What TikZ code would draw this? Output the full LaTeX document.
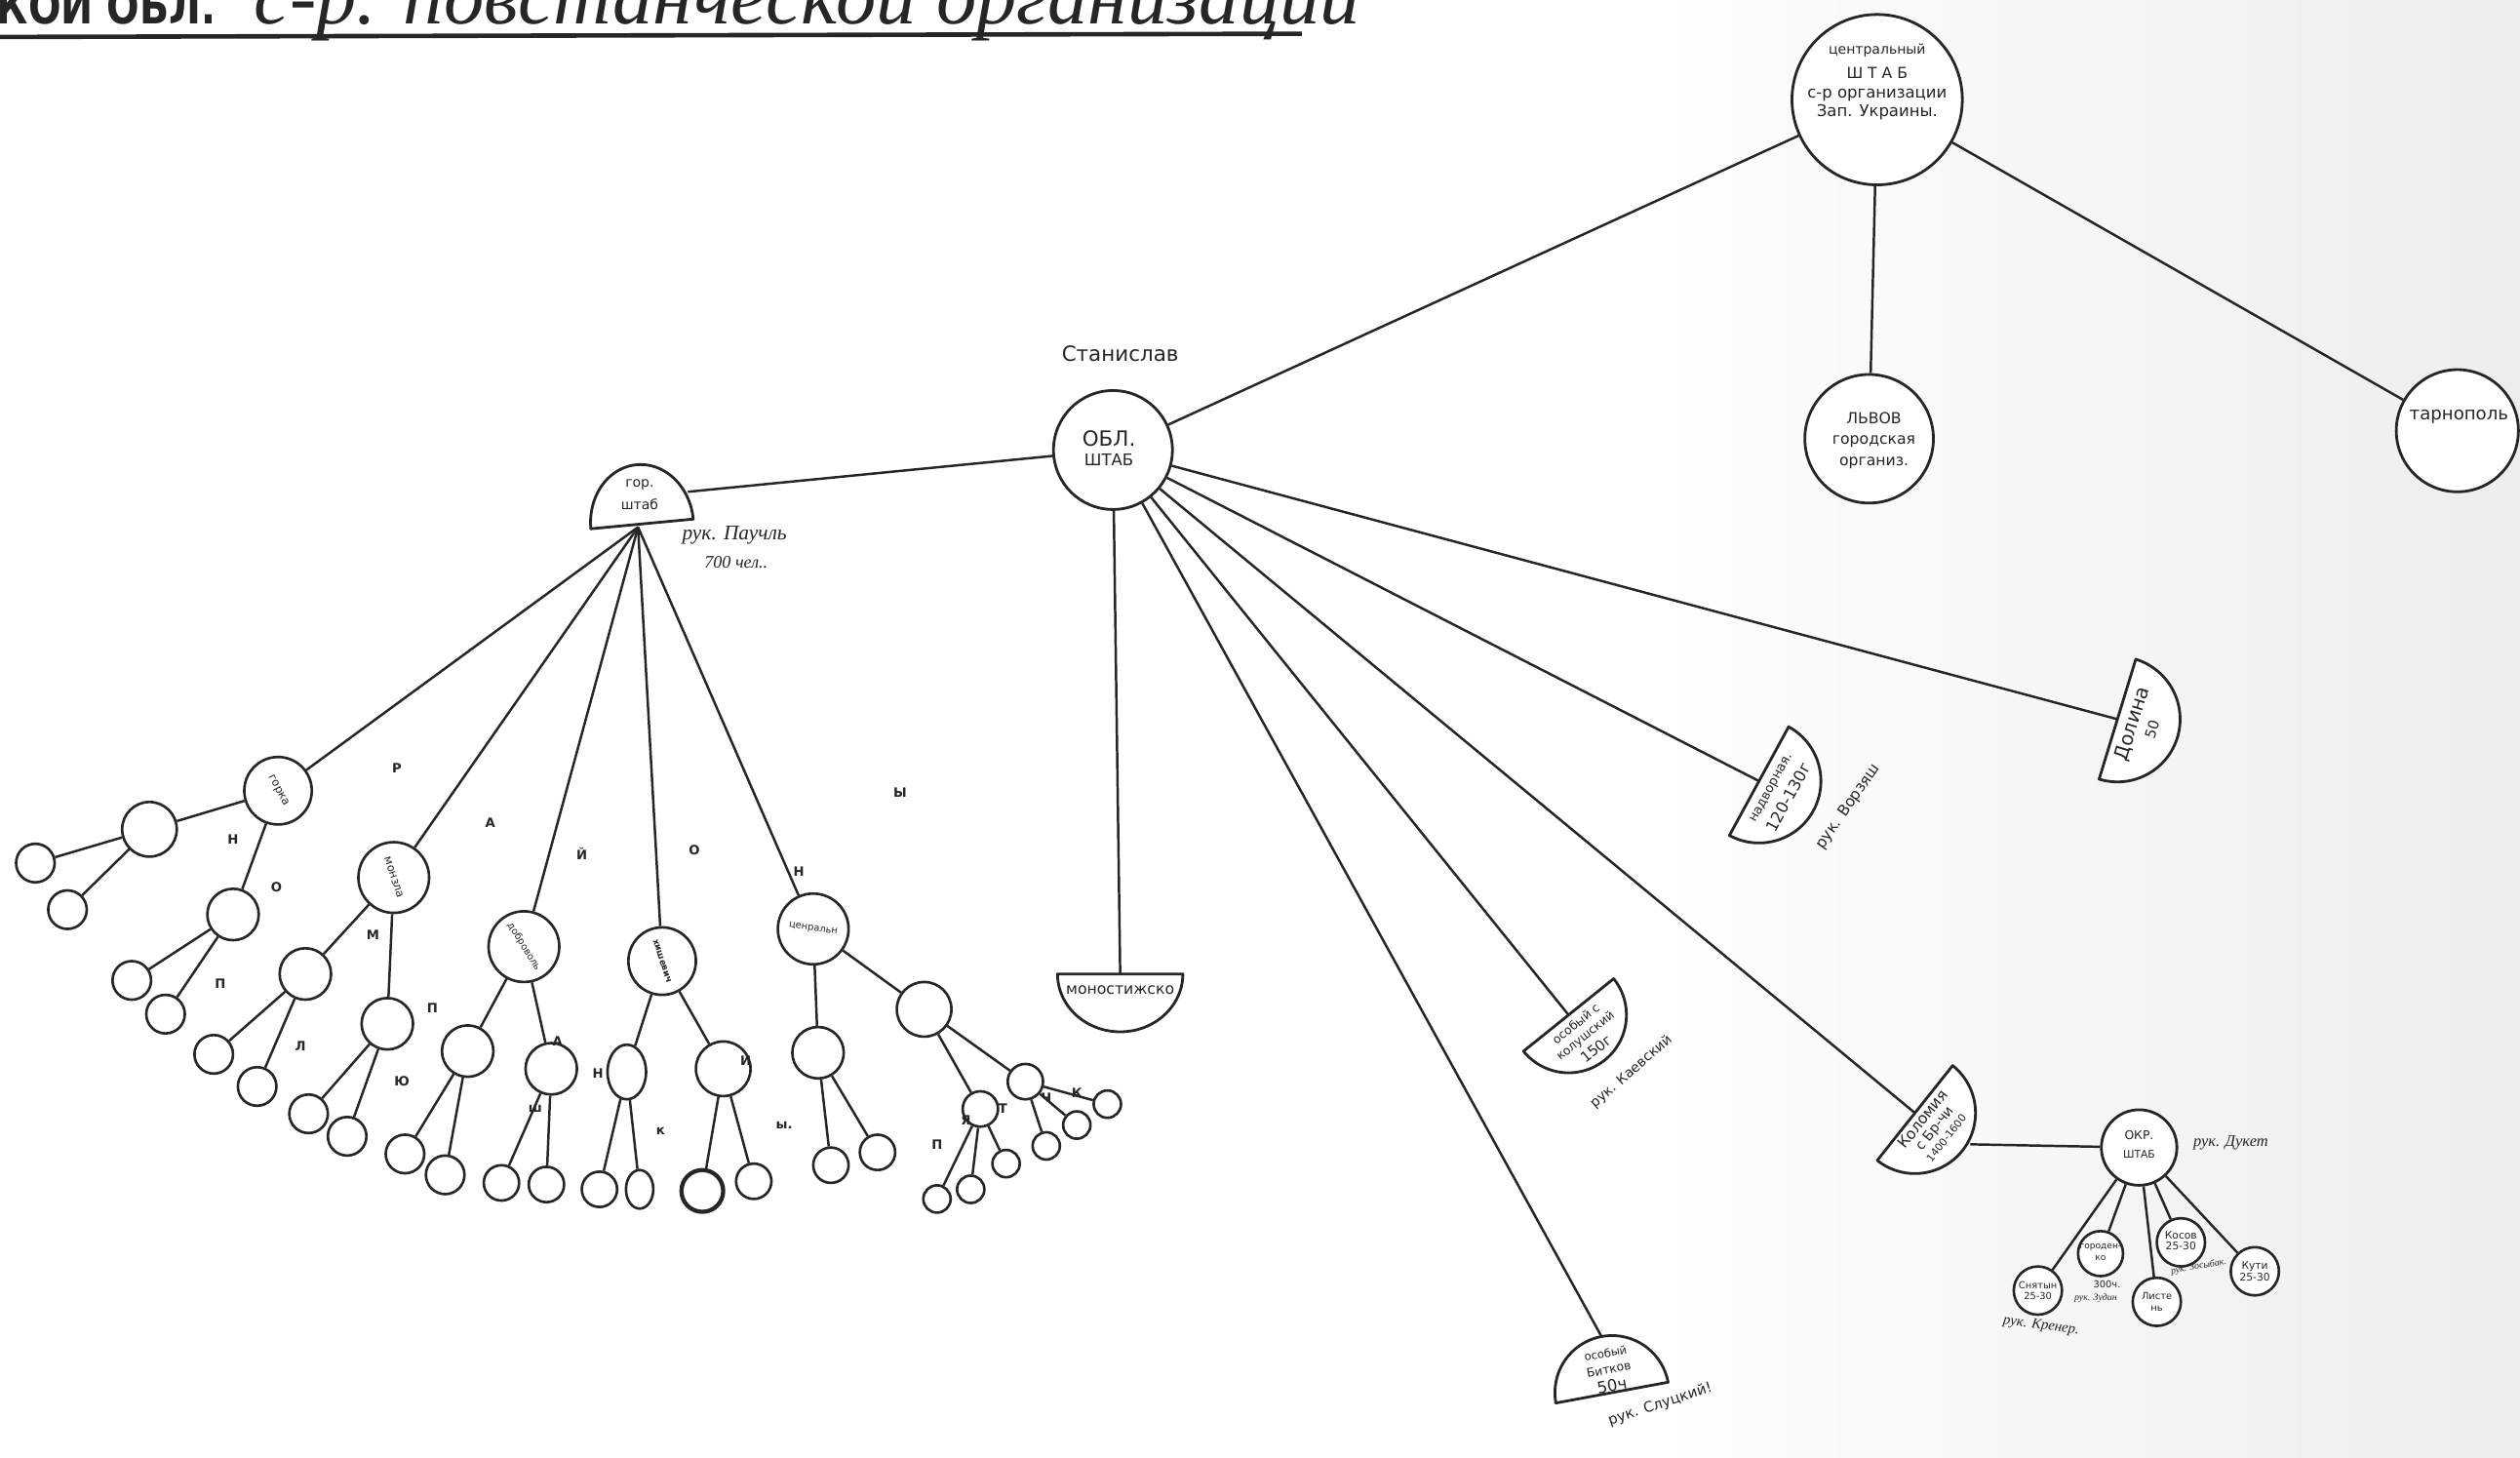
\documentclass[tikz,border=0pt]{standalone}
\usepackage{fontspec}
\setmainfont{DejaVu Sans}
\newfontfamily\scr{Liberation Serif}
\usetikzlibrary{shapes.geometric}
\definecolor{ink}{HTML}{262626}
\newcommand\fs[2]{\fontsize{#1}{#2}\selectfont}
\newcommand\hdisk[5]{\draw[hd] plot[domain=0:180,samples=60,variable=\q]
 ({#1+#3*cos(\q)*cos(#5)-#4*sin(\q)*sin(#5)},{#2+#3*cos(\q)*sin(#5)+#4*sin(\q)*cos(#5)}) -- cycle;}
\begin{document}
\begin{tikzpicture}[x=1pt,y=-1pt,
  ln/.style={line width=1.5pt,draw=ink},
  circ/.style={circle,draw=ink,line width=1.7pt,inner sep=0pt,fill=white},
  sc/.style={circle,draw=ink,line width=1.6pt,inner sep=0pt,minimum size=#1,fill=white},
  el/.style={ellipse,draw=ink,line width=1.6pt,inner sep=0pt,fill=white},
  hd/.style={draw=ink,line width=1.7pt,fill=white,line join=round},
  txt/.style={text=ink,align=center,inner sep=0pt},
  lt/.style={text=ink,inner sep=0pt,font=\bfseries\fs{8}{8}},
  hand/.style={text=ink,inner sep=0pt,align=left,font=\scr\itshape\fs{#1}{#1}},
  ]
\useasboundingbox (0,0) rectangle (1568,907);
\clip (0,0) rectangle (1568,907);
\fill[white] (0,0) rectangle (1568,907);
\shade[left color=white,right color=black!7] (1000,0) rectangle (1568,907);

% title
\node[txt,anchor=base west,font=\bfseries\fs{30}{30},xscale=0.8] (t1) at (-2,15) {КОЙ ОБЛ.};
\node[txt,anchor=base west,font=\scr\itshape\fs{50}{50}] (t2) at (158,15) {с-р. повстанческой организации};
\draw[line width=2.8pt,draw=ink] (0,23) -- (810,21);

% top nodes
\node[circ,minimum size=106] (cen) at (1168,62) {};
\node[txt] (cent) at (1168,51) {\fs{8.5}{12}центральный\\[3pt]\fs{9.5}{12}Ш Т А Б\\\fs{10}{12}с-р организации\\\fs{10}{12}Зап. Украины.};
\node[circ,minimum size=80] (lvov) at (1163,273) {};
\node[txt,font=\fs{9.5}{13}] (lvovt) at (1166,274) {ЛЬВОВ\\городская\\организ.};
\node[circ,minimum size=76] (tarn) at (1529,268) {};
\node[txt,font=\fs{11}{11}] (tarnt) at (1530,259) {тарнополь};

\node[circ,minimum size=74] (obl) at (692.5,280) {};
\node[txt] (oblt) at (690,279) {\fs{13}{24}ОБЛ.\\\fs{10}{12}ШТАБ};
\node[txt,font=\fs{13}{13}] (stan) at (697,220) {Станислав};

\draw[ln] (cen) -- (lvov);
\draw[ln] (cen) -- (tarn);
\draw[ln] (cen) -- (obl);

% half disks
\hdisk{399.5}{326}{32}{37}{174.6}
\coordinate (gorR) at (428,306);
\coordinate (gorB) at (397,328);
\node[txt,font=\fs{8.5}{14}] (gort) at (398,308) {гор.\\штаб};
\node[hand=13] (pauch) at (457,333) {рук. Паучль};
\node[hand=11] (pauch2) at (458,350) {700 чел..};

\hdisk{697}{606}{39}{36}{0}
\coordinate (monT) at (697,606);
\node[txt,font=\fs{9.5}{10}] (mont) at (697,616) {моностижско};

% osobyi (bulge dir 0.627,0.779)
\hdisk{976}{631.5}{36}{36}{-38.8}
\coordinate (osA) at (976,631.5);
\node[txt,font=\fs{7.5}{8},rotate=38.8] (osA1) at (980.4,637) {особый с};
\node[txt,font=\fs{7.5}{8},rotate=38.8] (osA2) at (986.6,644.8) {колушский};
\node[txt,font=\fs{9}{9},rotate=38.8] (osA3) at (993,652.5) {150г};
\node[txt,font=\fs{8.5}{9},rotate=41] (kaev) at (1015,667) {рук. Каевский};

% nadvornaya (bulge dir 0.878,0.479)
\hdisk{1094.5}{486}{38.5}{38.5}{-61.4}
\coordinate (nadv) at (1094.5,486);
\node[txt,font=\fs{8}{8},rotate=61.4] (nadv1) at (1102.4,490.3) {надворная.};
\node[txt,font=\fs{10}{10},rotate=61.4] (nadv2) at (1113,496) {120-130г};
\node[txt,font=\fs{9.5}{10},rotate=55] (vorz) at (1150,502) {рук. Ворзяш};

% dolina (bulge dir 0.956,0.292)
\hdisk{1317.5}{447.5}{39}{39}{-73}
\coordinate (dol) at (1317.5,447.5);
\node[txt,font=\fs{12}{12},rotate=73] (dol1) at (1327,450.5) {Долина};
\node[txt,font=\fs{9}{9},rotate=73] (dol2) at (1339,454) {50};

% kolomiya (bulge dir 0.783,0.623)
\hdisk{1191.5}{692.5}{37.7}{37.7}{-51.5}
\coordinate (kol) at (1191.5,692.5);
\coordinate (kolR) at (1226,712);
\node[txt,font=\fs{9.5}{10},rotate=51.5] (kol1) at (1196.2,696.2) {Коломия};
\node[txt,font=\fs{8.5}{9},rotate=51.5] (kol2) at (1204,702.5) {с Бр-чи};
\node[txt,font=\fs{6.5}{7},rotate=51.5] (kol3) at (1211,708) {1400-1600};

% bitkov
\hdisk{1003}{866.5}{35.5}{35.5}{169.5}
\coordinate (bitT) at (996.5,831.6);
\node[txt,font=\fs{7}{7},rotate=10.5] (bit1) at (999,842) {особый};
\node[txt,font=\fs{7.5}{8},rotate=10.5] (bit2) at (1001,852) {Битков};
\node[txt,font=\fs{10}{10},rotate=10.5] (bit3) at (1003,862) {50ч};
\node[txt,font=\fs{9}{9},rotate=18] (sluc) at (1033,874) {рук. Слуцкий!};

\draw[ln] (obl) -- (gorR);
\draw[ln] (obl) -- (monT);
\draw[ln] (obl) -- (bitT);
\draw[ln] (obl) -- (osA);
\draw[ln] (obl) -- (kol);
\draw[ln] (obl) -- (nadv);
\draw[ln] (obl) -- (dol);

% okr shtab
\node[circ,minimum size=47] (okr) at (1331,714) {};
\node[txt] (okrt) at (1331,712) {\fs{7.5}{13}ОКР.\\\fs{6.5}{8}ШТАБ};
\node[hand=10] (duk) at (1388,711) {рук. Дукет};
\draw[ln] (kolR) -- (okr);
\node[sc=30] (snt) at (1268,803) {};
\node[txt,font=\fs{6}{7}] (sntt) at (1268,803) {Снятын\\25-30};
\node[sc=28] (gor) at (1307,780) {};
\node[txt,font=\fs{5.5}{7}] (gort2) at (1307,779) {городен-\\ко};
\node[sc=30] (list) at (1342,810) {};
\node[txt,font=\fs{6}{7}] (listt) at (1342,810) {Листе\\нь};
\node[sc=30] (kos) at (1357,773) {};
\node[txt,font=\fs{6.5}{7}] (kost) at (1357,772) {Косов\\25-30};
\node[sc=30] (kut) at (1403,791) {};
\node[txt,font=\fs{6.5}{7}] (kutt) at (1403,791) {Кути\\25-30};
\foreach \b in {snt,gor,list,kos,kut} \draw[ln] (okr) -- (\b);
\node[hand=9,rotate=-8] (kren) at (1270,825) {рук. Кренер.};
\node[txt,font=\fs{6}{6}] (ch300) at (1311,799) {300ч.};
\node[hand=6] (zud) at (1304,808) {рук. Зудин};
\node[hand=6,rotate=10] (zos) at (1368,788) {рук. Зосыбак.};

% left tree
\node[sc=42] (gA) at (173,492) {};
\node[sc=34] (a1) at (93,516) {};
\node[sc=24] (a11) at (22,537) {};
\node[sc=24] (a12) at (42,566) {};
\node[sc=32] (a2) at (145,569) {};
\node[sc=24] (a21) at (82,610) {};
\node[sc=24] (a22) at (103,631) {};
\node[sc=44] (gB) at (245,546) {};
\node[sc=32] (b1) at (190,606) {};
\node[sc=32] (b2) at (241,637) {};
\node[sc=24] (b11) at (133,656) {};
\node[sc=24] (b12) at (160,676) {};
\node[sc=24] (b21) at (192,693) {};
\node[sc=24] (b22) at (216,707) {};
\node[sc=44] (gC) at (326,589) {};
\node[sc=32] (c1) at (291,654) {};
\node[sc=32] (c2) at (343,665) {};
\node[sc=24] (c11) at (252,718) {};
\node[sc=24] (c12) at (277,731) {};
\node[sc=22] (c21) at (312,736) {};
\node[sc=22] (c22) at (340,737) {};
\node[sc=42] (gD) at (412,598) {};
\node[el,minimum width=24,minimum height=34] (d1) at (390,667) {};
\node[sc=34] (d2) at (450,665) {};
\node[sc=22] (d11) at (373,740) {};
\node[el,minimum width=17,minimum height=24] (d12) at (398,740) {};
\node[sc=26,line width=2.6pt] (d21) at (437,741) {};
\node[sc=22] (d22) at (469,735) {};
\node[sc=44] (gE) at (506,578) {};
\node[sc=32] (e1) at (509,655) {};
\node[sc=34] (e2) at (575,628) {};
\node[sc=22] (e11) at (517,725) {};
\node[sc=22] (e12) at (546,717) {};
\node[sc=22] (e21) at (610,690) {};
\node[sc=22] (e22) at (638,673) {};
\node[sc=17] (e211) at (583,746) {};
\node[sc=17] (e212) at (604,740) {};
\node[sc=17] (e213) at (626,724) {};
\node[sc=17] (e221) at (651,713) {};
\node[sc=17] (e222) at (670,700) {};
\node[sc=17] (e223) at (689,687) {};

\foreach \b in {gA,gB,gC,gD,gE} \draw[ln] (gorB) -- (\b);
\foreach \a/\b in {gA/a1,a1/a11,a1/a12,gA/a2,a2/a21,a2/a22,
  gB/b1,gB/b2,b1/b11,b1/b12,b2/b21,b2/b22,
  gC/c1,gC/c2,c1/c11,c1/c12,c2/c21,c2/c22,
  gD/d1,gD/d2,d1/d11,d1/d12,d2/d21,d2/d22,
  gE/e1,gE/e2,e1/e11,e1/e12,e2/e21,e2/e22,
  e21/e211,e21/e212,e21/e213,e22/e221,e22/e222,e22/e223}
  \draw[ln] (\a) -- (\b);

\node[txt,font=\fs{7}{7},rotate=-62] (gAt) at (gA) {горка};
\node[txt,font=\fs{7}{7},rotate=-72] (gBt) at (gB) {монзла};
\node[txt,font=\fs{6}{7},rotate=-58] (gCt) at (gC) {доброволь};
\node[txt,font=\bfseries\fs{5.5}{7},rotate=-72] (gDt) at (gD) {хишевич};
\node[txt,font=\fs{6}{7},rotate=-8] (gEt) at (gE) {ценральн};

% scattered letters
\node[lt] (r1) at (247,478) {Р};
\node[lt] (r2) at (305,512) {А};
\node[lt] (r3) at (362,531) {Й};
\node[lt] (r4) at (432,529) {О};
\node[lt] (r5) at (497,542) {Н};
\node[lt] (r6) at (560,493) {Ы};
\node[lt] (s1) at (145,522) {Н};
\node[lt] (s2) at (172,552) {О};
\node[lt] (s3) at (232,582) {М};
\node[lt] (s4) at (269,627) {П};
\node[lt] (s5) at (347,648) {А};
\node[lt] (s6) at (372,668) {Н};
\node[lt] (s7) at (464,660) {И};
\node[lt] (u1) at (137,612) {П};
\node[lt] (u2) at (187,651) {Л};
\node[lt] (u3) at (250,673) {Ю};
\node[lt] (u4) at (333,690) {ш};
\node[lt] (u5) at (411,704) {к};
\node[lt] (u6) at (488,700) {ы.};
\node[lt] (v1) at (583,712) {П};
\node[lt] (v2) at (601,697) {Я};
\node[lt] (v3) at (624,690) {Т};
\node[lt] (v4) at (651,683) {Ч};
\node[lt] (v5) at (670,680) {К};
\end{tikzpicture}
\end{document}
